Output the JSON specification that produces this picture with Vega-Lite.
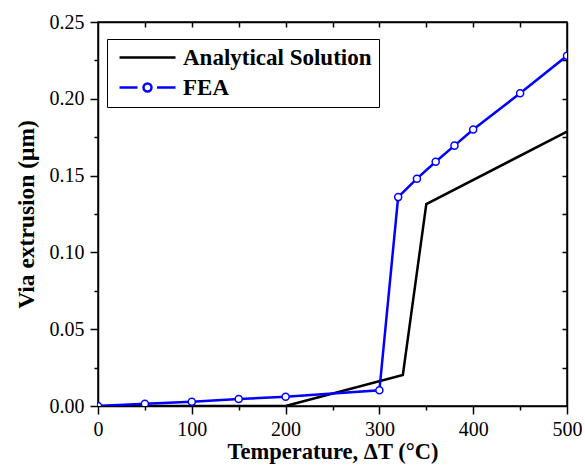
{
  "$schema": "https://vega.github.io/schema/vega-lite/v6.json",
  "width": 469,
  "height": 384,
  "autosize": {"type": "none"},
  "padding": {"left": 98, "top": 22, "right": 18, "bottom": 62},
  "background": "white",
  "config": {
    "view": {"stroke": "black", "strokeWidth": 1.5},
    "font": "Liberation Serif",
    "axis": {
      "domainColor": "black", "domainWidth": 1.5,
      "tickColor": "black", "tickWidth": 1.5,
      "labelFont": "Liberation Serif", "labelFontSize": 20, "labelColor": "black",
      "titleFont": "Liberation Serif", "titleFontSize": 22.5, "titleFontWeight": "bold", "titleColor": "black",
      "grid": false
    }
  },
  "data": {
    "values": [
      {"series": "Analytical Solution", "t": 0, "v": 0},
      {"series": "Analytical Solution", "t": 200, "v": 0},
      {"series": "Analytical Solution", "t": 325, "v": 0.0202},
      {"series": "Analytical Solution", "t": 350, "v": 0.1315},
      {"series": "Analytical Solution", "t": 500, "v": 0.1786},
      {"series": "FEA", "t": 0, "v": 0},
      {"series": "FEA", "t": 50, "v": 0.0015},
      {"series": "FEA", "t": 100, "v": 0.0028},
      {"series": "FEA", "t": 150, "v": 0.0045},
      {"series": "FEA", "t": 200, "v": 0.006},
      {"series": "FEA", "t": 300, "v": 0.0102},
      {"series": "FEA", "t": 320, "v": 0.136},
      {"series": "FEA", "t": 340, "v": 0.148},
      {"series": "FEA", "t": 360, "v": 0.159},
      {"series": "FEA", "t": 380, "v": 0.1695},
      {"series": "FEA", "t": 400, "v": 0.18},
      {"series": "FEA", "t": 450, "v": 0.2036},
      {"series": "FEA", "t": 500, "v": 0.228}
    ]
  },
  "layer": [
    {
      "mark": {"type": "line", "strokeWidth": 2.5, "clip": true},
      "encoding": {
        "x": {
          "field": "t", "type": "quantitative",
          "scale": {"domain": [0, 500], "nice": false, "zero": false},
          "axis": {
            "orient": "bottom",
            "title": "Temperature, ΔT (°C)",
            "values": [0, 50, 100, 150, 200, 250, 300, 350, 400, 450, 500],
            "labelExpr": "datum.value % 100 === 0 ? datum.label : ''",
            "tickSize": {"condition": {"test": "datum.value % 100 === 0", "value": 8}, "value": 4},
            "labelPadding": 5,
            "titlePadding": 1,
            "labelFlush": false,
            "labelOverlap": false
          }
        },
        "y": {
          "field": "v", "type": "quantitative",
          "scale": {"domain": [0, 0.25], "nice": false},
          "axis": {
            "orient": "left",
            "title": "Via extrusion (μm)",
            "titleFontSize": 23.5,
            "values": [0, 0.025, 0.05, 0.075, 0.1, 0.125, 0.15, 0.175, 0.2, 0.225, 0.25],
            "format": ".2f",
            "labelExpr": "round(datum.value * 1000) % 50 === 0 ? datum.label : ''",
            "tickSize": {"condition": {"test": "round(datum.value * 1000) % 50 === 0", "value": 8}, "value": 4},
            "labelPadding": 6,
            "titlePadding": 11,
            "labelFlush": false,
            "labelOverlap": false
          }
        },
        "color": {
          "field": "series", "type": "nominal",
          "scale": {"domain": ["Analytical Solution", "FEA"], "range": ["black", "blue"]},
          "legend": {
            "title": null,
            "orient": "none",
            "legendX": 9,
            "legendY": 17,
            "strokeColor": "black",
            "fillColor": "white",
            "padding": 7,
            "labelFont": "Liberation Serif",
            "labelFontSize": 23,
            "labelFontWeight": "bold",
            "labelColor": "black",
            "labelLimit": 400,
            "symbolSize": 400,
            "symbolOffset": 22,
            "labelOffset": 24,
            "symbolStrokeWidth": 2.5,
            "rowPadding": 6,
            "encode": {
              "symbols": {
                "update": {
                  "shape": {"signal": "datum.value === 'FEA' ? 'M-2.8,0H-1M0.95,0H2.8M-0.4,0A0.4,0.4,0,1,1,0.4,0A0.4,0.4,0,1,1,-0.4,0' : 'M-2.8,0H2.8'"},
                  "fill": {"value": "white"},
                  "strokeWidth": {"value": 2.5}
                }
              }
            }
          }
        }
      }
    },
    {
      "transform": [{"filter": "datum.series === 'FEA'"}],
      "mark": {"type": "point", "shape": "circle", "filled": true, "fill": "white", "stroke": "blue", "strokeWidth": 1.5, "size": 50, "opacity": 1, "clip": true},
      "encoding": {
        "x": {
          "field": "t", "type": "quantitative",
          "scale": {"domain": [0, 500], "nice": false, "zero": false},
          "axis": {
            "orient": "top", "title": null, "labels": false,
            "values": [50, 100, 150, 200, 250, 300, 350, 400, 450],
            "tickSize": -5
          }
        },
        "y": {
          "field": "v", "type": "quantitative",
          "scale": {"domain": [0, 0.25], "nice": false},
          "axis": {
            "orient": "right", "title": null, "labels": false,
            "values": [0.025, 0.05, 0.075, 0.1, 0.125, 0.15, 0.175, 0.2, 0.225],
            "tickSize": -5
          }
        }
      }
    }
  ],
  "resolve": {"axis": {"x": "independent", "y": "independent"}}
}
